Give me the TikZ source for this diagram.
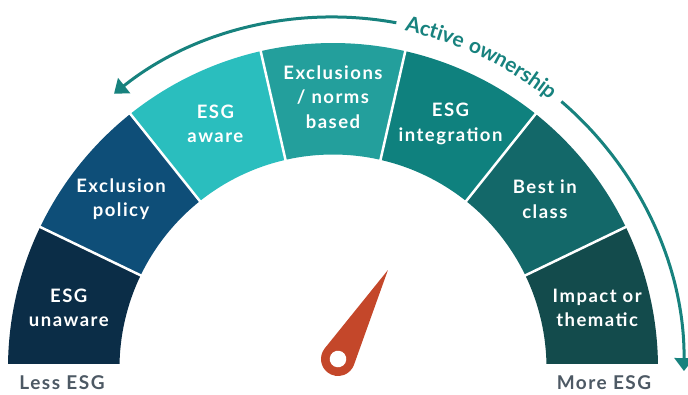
\documentclass[tikz,border=0pt]{standalone}
\usepackage{fontspec}
\setmainfont{Lato}[LetterSpace=8]
\usepackage{tikz}
\usetikzlibrary{arrows.meta,decorations.text}

\definecolor{unaware}{HTML}{0B2D47}
\definecolor{policy}{HTML}{0E4E78}
\definecolor{aware}{HTML}{2ABEBE}
\definecolor{norms}{HTML}{239F9C}
\definecolor{integration}{HTML}{0F817E}
\definecolor{bestclass}{HTML}{136869}
\definecolor{impact}{HTML}{134B4C}
\definecolor{owncol}{HTML}{17827E}
\definecolor{endgray}{HTML}{4D5964}
\definecolor{needle}{HTML}{C4472A}

\begin{document}
\begin{tikzpicture}[x=1pt,y=1pt,
	seglabel/.style={text=white,font=\fontsize{18.5}{24.5}\selectfont\bfseries,align=center},
	endlabel/.style={text=endgray,font=\fontsize{19}{24.5}\selectfont\bfseries},
	ownership/.style={draw=owncol,line width=3pt,-{Triangle[length=13pt,width=19pt]}},
	]
	\useasboundingbox (-333,-26) rectangle (355,368);
	% gauge segments
	\begin{scope}
	\clip (-340,5) rectangle (340,400);
	\foreach \col/\txt [count=\i] in {unaware/{ESG\\unaware},policy/{Exclusion\\policy},aware/{ESG\\aware},norms/{Exclusions\\/ norms\\based},integration/{ESG\\integration},bestclass/{Best in\\class},impact/{Impact or\\thematic}} {
		\pgfmathsetmacro\a{180-(\i-1)*180/7}
		\pgfmathsetmacro\b{180-\i*180/7}
		\pgfmathsetmacro\m{(\a+\b)/2}
		\fill[\col] (\a:325) arc (\a:\b:325) -- (\b:213.5) arc (\b:\a:213.5) -- cycle;
		\node[seglabel] (seg\i) at (\m:271) {\txt};
	}
	\end{scope}
	\foreach \i in {1,...,6}
		\draw[white,line width=2.5pt] ({180-\i*180/7}:211) -- ({180-\i*180/7}:327);
	% needle
	\begin{scope}[shift={(5,9)},rotate=60.7]
	\fill[needle] (102,0) -- (80.4:17) arc (80.4:279.6:17) -- cycle;
	\fill[white] (0,0) circle (8.3);
	\end{scope}
	% active ownership arrow
	\draw[ownership] (79.6:351) arc (79.6:128.6:351);
	\draw[ownership] (49.4:351) arc (49.4:-0.5:351);
	\path[decorate,decoration={text along path,text align=center,raise=-6.5pt,
		text={|\fontsize{21}{21}\selectfont\bfseries\color{owncol}|Active ownership}}]
		(80:351) arc (80:49:351);
	\node[endlabel] (less) at (-271,-15) {Less ESG};
	\node[endlabel] (more) at (271,-15) {More ESG};
\end{tikzpicture}
\end{document}
